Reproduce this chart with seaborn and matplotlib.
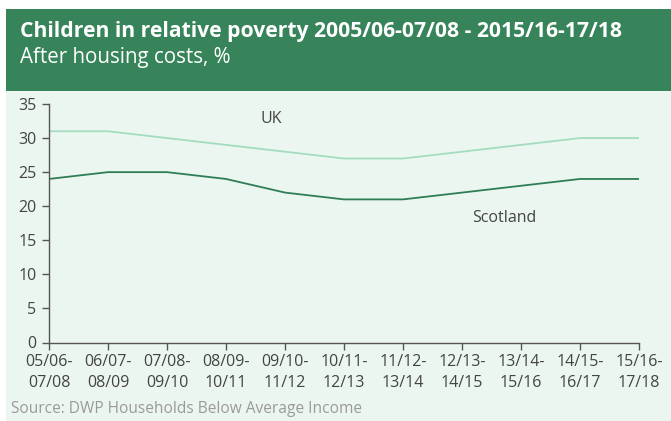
import matplotlib
matplotlib.use("Agg")
import matplotlib.pyplot as plt
import matplotlib.patches as mpatches
import seaborn as sns
import pandas as pd

periods = ["05/06-\n07/08", "06/07-\n08/09", "07/08-\n09/10", "08/09-\n10/11", "09/10-\n11/12",
           "10/11-\n12/13", "11/12-\n13/14", "12/13-\n14/15", "13/14-\n15/16", "14/15-\n16/17",
           "15/16-\n17/18"]
uk = [31, 31, 30, 29, 28, 27, 27, 28, 29, 30, 30]
scotland = [24, 25, 25, 24, 22, 21, 21, 22, 23, 24, 24]
yticks = [0, 5, 10, 15, 20, 25, 30, 35]

df = pd.DataFrame({
    "idx": list(range(len(periods))) * 2,
    "value": uk + scotland,
    "series": ["UK"] * len(uk) + ["Scotland"] * len(scotland),
})

sns.set_style("ticks")
plt.rcParams['font.family'] = ['Open Sans', 'DejaVu Sans']

BG = "#ECF6F0"
GREEN = "#37845B"
fig = plt.figure(figsize=(6.71, 4.21), dpi=100)
fig.patch.set_facecolor("white")
# light panel background
fig.patches.append(mpatches.Rectangle((6/671, 0), 1, 1 - 91/421, transform=fig.transFigure,
                                      facecolor=BG, edgecolor="none", zorder=-10))
# header band
fig.patches.append(mpatches.Rectangle((6/671, 1 - 91/421), 1, 82/421, transform=fig.transFigure,
                                      facecolor=GREEN, edgecolor="none", zorder=-10))

ax = fig.add_axes([49/671, 1 - 342.5/421, 590/671, 238.5/421])
ax.set_zorder(5)
ax.set_facecolor("none")
sns.lineplot(data=df, x="idx", y="value", hue="series", ax=ax,
             palette={"UK": "#A3DCBE", "Scotland": "#2F7D55"}, linewidth=1.3, legend=False)

ax.set_xlim(0, len(periods) - 1)
ax.set_ylim(0, 35)
ax.set_yticks(yticks)
ax.set_xticks(range(len(periods)))
ax.set_xticklabels(periods, linespacing=1.45)
ax.set_xlabel("")
ax.set_ylabel("")
for s in ["top", "right"]:
    ax.spines[s].set_visible(False)
for s in ["left", "bottom"]:
    ax.spines[s].set_color("#555555")
    ax.spines[s].set_linewidth(1.0)
ax.tick_params(axis="both", colors="#555555", labelcolor="#444444", labelsize=11.5,
               length=5, width=1.0, pad=3)
ax.tick_params(axis="y", pad=4)

ax.text(3.76, 32.8, "UK", ha="center", va="center", fontsize=11.5, color="#444444")
ax.text(7.71, 18.3, "Scotland", ha="center", va="center", fontsize=11.5, color="#444444")

fig.text(20/671, 1 - 31/421, "Children in relative poverty 2005/06-07/08 - 2015/16-17/18",
         fontsize=15.2, fontweight="bold", color="white", va="center", ha="left")
fig.text(20/671, 1 - 57/421, "After housing costs, %",
         fontsize=14.8, color="white", va="center", ha="left")
fig.text(11/671, 1 - 409/421, "Source: DWP Households Below Average Income",
         fontsize=11.2, color="#9A9A9A", va="center", ha="left")

fig.savefig("out.png", dpi=100)
